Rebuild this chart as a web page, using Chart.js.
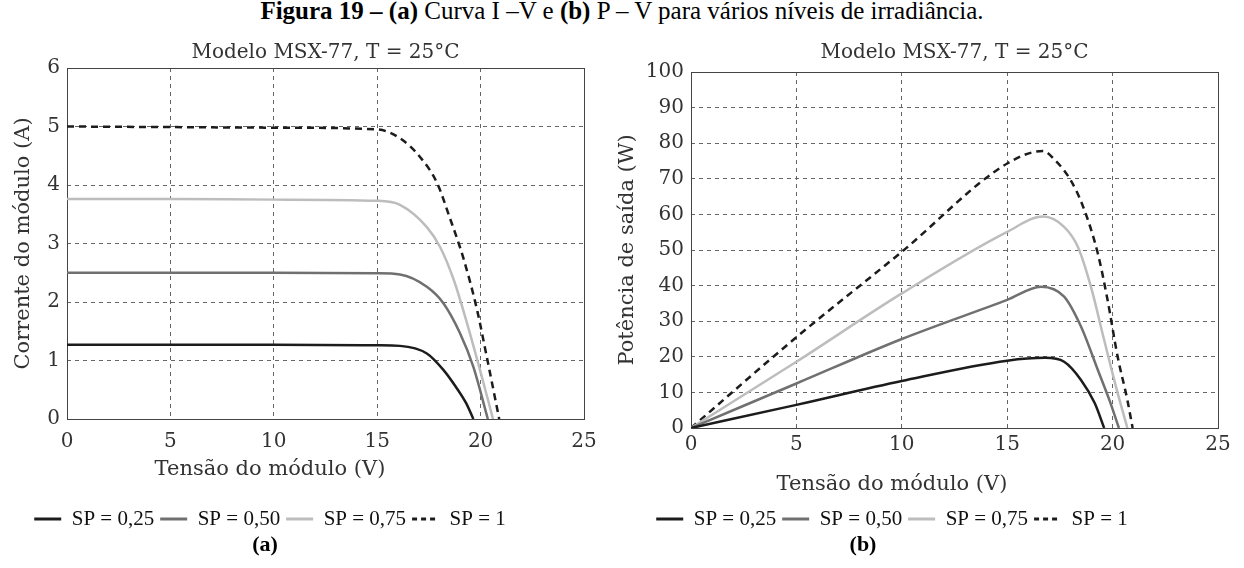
<!DOCTYPE html>
<html>
<head>
<meta charset="utf-8">
<script src="https://cdn.jsdelivr.net/npm/chart.js@4"></script>
<style>
  body { margin: 0; width: 1244px; height: 568px; background: #fff; overflow: hidden; position: relative; font-family: "Liberation Serif", serif; color: #000; }
  .cap { position: absolute; white-space: nowrap; transform: translateX(-50%); }
  .box { position: absolute; }
</style>
</head>
<body>
<div class="cap" style="left:622px; top:-3px; font-size:25px;"><b>Figura 19 – (a)</b> Curva I –V e <b>(b)</b> P – V para vários níveis de irradiância.</div>
<div class="box" style="left:-44px; top:30px; width:654px; height:504px;"><canvas id="ivChart"></canvas></div>
<div class="box" style="left:566px; top:30px; width:672px; height:506px;"><canvas id="pvChart"></canvas></div>
<div class="cap" style="left:265px; top:531px; font-size:22px; font-weight:bold;">(a)</div>
<div class="cap" style="left:863px; top:531px; font-size:22px; font-weight:bold;">(b)</div>
<script>
// labels
const seriesLabels = ["SP = 0,25", "SP = 0,50", "SP = 0,75", "SP = 1"];
const chartTitle = "Modelo MSX-77, T = 25°C";
const xTitle = "Tensão do módulo (V)";

// curva I-V (tensão V, corrente A)
const ivV025 = [0, 5, 10, 15, 16.1, 17.4, 18.2, 18.8, 19.3, 19.65];
const ivI025 = [1.27, 1.27, 1.27, 1.26, 1.25, 1.12, 0.84, 0.55, 0.27, 0];
const ivV050 = [0, 5, 10, 15, 16.1, 17.4, 18.2, 19.0, 19.65, 20.35];
const ivI050 = [2.5, 2.5, 2.5, 2.49, 2.47, 2.26, 1.98, 1.47, 0.89, 0];
const ivV075 = [0, 5, 10, 15, 16.1, 17.4, 18.04, 18.7, 19.3, 19.97, 20.6];
const ivI075 = [3.76, 3.76, 3.75, 3.73, 3.66, 3.28, 2.94, 2.38, 1.69, 0.84, 0];
const ivV100 = [0, 5, 10, 15, 16.1, 17.07, 17.9, 18.5, 19.15, 19.8, 20.3, 20.9];
const ivI100 = [5.0, 4.99, 4.98, 4.95, 4.8, 4.48, 4.03, 3.45, 2.77, 1.91, 1.06, 0];

// curva P-V (tensão V, potência W)
const pvV025 = [0, 5, 10, 15, 16.8, 17.7, 18.5, 19.15, 19.6];
const pvP025 = [0, 6.5, 13.2, 18.9, 19.7, 18.6, 13.5, 7, 0];
const pvV050 = [0, 5, 10, 15, 16.6, 17.7, 18.5, 19.3, 19.9, 20.3];
const pvP050 = [0, 12.5, 25, 36, 39.7, 36.9, 28.5, 16.3, 7, 0];
const pvV075 = [0, 5, 10, 15, 16.7, 17.7, 18.35, 18.97, 19.6, 20.2, 20.7];
const pvP075 = [0, 18.6, 37.8, 55.1, 59.4, 56.5, 50.9, 39.7, 24.7, 10.7, 0];
const pvV100 = [0, 5, 10, 15, 16.7, 17.26, 18.0, 18.6, 19.3, 19.76, 20.24, 20.7, 20.95];
const pvP100 = [0, 25.5, 49.5, 74.3, 77.8, 75.3, 69.7, 62.2, 49, 36, 20, 7.9, 0];

const lineColors = ["#1c1c1c", "#707070", "#bdbdbd", "#1c1c1c"];
const lineDashes = [[], [], [], [7, 5]];

Chart.defaults.font.family = "DejaVu Serif";
Chart.defaults.color = "#333";

function pts(xs, ys) {
    return xs.map((x, i) => ({ x: x, y: ys[i] }));
}

function makeDatasets(pairs) {
    return pairs.map((p, i) => ({
        label: seriesLabels[i],
        data: pts(p[0], p[1]),
        showLine: true,
        borderColor: lineColors[i],
        backgroundColor: lineColors[i],
        borderWidth: 2.5,
        borderDash: lineDashes[i],
        pointRadius: 0,
        cubicInterpolationMode: "monotone",
    }));
}

// moldura do gráfico
const frame = {
    id: "frame",
    beforeDatasetsDraw(chart) {
        const a = chart.chartArea;
        const ctx = chart.ctx;
        ctx.save();
        ctx.strokeStyle = "#444";
        ctx.lineWidth = 1;
        ctx.strokeRect(a.left + 0.5, a.top + 0.5, a.right - a.left, a.bottom - a.top);
        ctx.restore();
    },
};

function makeChart(id, cfg) {
    new Chart(document.getElementById(id), {
        type: "scatter",
        data: { datasets: cfg.datasets },
        plugins: [frame],
        options: {
            responsive: true,
            maintainAspectRatio: false,
            animation: false,
            layout: { padding: { left: 0, right: cfg.padRight, top: 0, bottom: 0 } },
            scales: {
                x: {
                    min: 0,
                    max: 25,
                    ticks: { stepSize: 5, padding: cfg.xTickPad, font: { size: 20 }, color: "#333" },
                    grid: { color: "#666", lineWidth: 1, drawTicks: false },
                    border: { display: false, dash: [4, 4] },
                    afterFit: (s) => { s.height = cfg.xHeight; },
                },
                y: {
                    min: 0,
                    max: cfg.yMax,
                    ticks: { stepSize: cfg.yStep, padding: 7, font: { size: 20 }, color: "#333" },
                    grid: { color: "#666", lineWidth: 1, drawTicks: false },
                    border: { display: false, dash: [4, 4] },
                    title: { display: true, text: cfg.yTitle, font: { size: 21 }, color: "#333", padding: { top: cfg.yTitlePad, bottom: 0 } },
                    afterFit: (s) => { s.width = cfg.yWidth; },
                },
            },
            plugins: {
                tooltip: { enabled: false },
                title: {
                    display: true,
                    text: chartTitle,
                    fullSize: false,
                    font: { size: 20, weight: "normal" },
                    color: "#333",
                    padding: { top: 11, bottom: cfg.titlePadBottom },
                },
                legend: {
                    position: "bottom",
                    maxHeight: cfg.legendHeight,
                    title: {
                        display: true,
                        text: xTitle,
                        font: { size: 21 },
                        color: "#333",
                        padding: { top: cfg.xTitlePadTop, bottom: cfg.xTitlePadBottom },
                    },
                    labels: {
                        usePointStyle: true,
                        pointStyleWidth: 27,
                        padding: 6,
                        color: "#111",
                        font: { family: "Liberation Serif", size: 21 },
                        generateLabels: (chart) =>
                            chart.data.datasets.map((ds, i) => ({
                                text: ds.label,
                                datasetIndex: i,
                                hidden: false,
                                strokeStyle: ds.borderColor,
                                fillStyle: ds.borderColor,
                                lineWidth: ds.borderWidth + 0.5,
                                lineDash: i === 3 ? [5, 4] : [],
                                pointStyle: "line",
                                fontColor: "#111",
                            })),
                    },
                },
            },
        },
    });
}

makeChart("ivChart", {
    datasets: makeDatasets([[ivV025, ivI025], [ivV050, ivI050], [ivV075, ivI075], [ivV100, ivI100]]),
    yMax: 6,
    yStep: 1,
    yTitle: "Corrente do módulo (A)",
    yWidth: 111,
    yTitlePad: 55.4,
    padRight: 26,
    xTickPad: 11,
    xHeight: 35,
    titlePadBottom: 3,
    legendHeight: 80,
    xTitlePadTop: 5.5,
    xTitlePadBottom: 17.8,
});

makeChart("pvChart", {
    datasets: makeDatasets([[pvV025, pvP025], [pvV050, pvP050], [pvV075, pvP075], [pvV100, pvP100]]),
    yMax: 100,
    yStep: 10,
    yTitle: "Potência de saída (W)",
    yWidth: 125,
    yTitlePad: 49.4,
    padRight: 20,
    xTickPad: 5,
    xHeight: 30,
    titlePadBottom: 7,
    legendHeight: 78,
    xTitlePadTop: 16.5,
    xTitlePadBottom: 2.8,
});
</script>
</body>
</html>
